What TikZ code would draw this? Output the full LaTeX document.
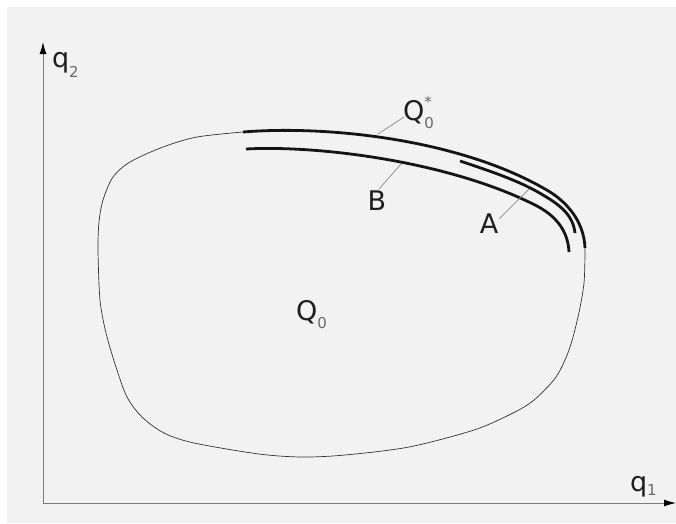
\documentclass[tikz,border=0pt]{standalone}
\usepackage{fontspec}
\setmainfont{DejaVu Sans}
\usetikzlibrary{arrows.meta}
\definecolor{bggray}{HTML}{F2F2F2}
\definecolor{subgray}{HTML}{6A6A6A}
\definecolor{leadgray}{HTML}{8A8A8A}
\definecolor{axisgray}{HTML}{7A7A7A}
\definecolor{ink}{HTML}{1E1E1E}
\newcommand{\lsub}[2]{{\fontsize{15}{15}\selectfont\color{subgray}\raisebox{#1}{#2}}}
\newcommand{\qsub}[2]{{\fontsize{15}{15}\selectfont\color{subgray}\raisebox{#1}{#2}}}
\tikzset{
  lbl/.style={inner sep=0pt, outer sep=0pt, text=ink, font=\fontsize{27}{27}\selectfont},
  axisline/.style={draw=axisgray, line width=1pt, -{Latex[length=12pt,width=7pt,color=black]}},
  boundary/.style={draw=black!80, line width=0.7pt},
  thickarc/.style={draw=black!92, line width=2.8pt},
  leader/.style={draw=leadgray, line width=0.7pt}
}
\begin{document}
\begin{tikzpicture}[x=1pt,y=-1pt]
\useasboundingbox (0,0) rectangle (676,523);
\fill[white] (0,0) rectangle (676,523);
\fill[bggray] (7,7) rectangle (676,523);

% axes
\coordinate (O) at (43,503);
\coordinate (ytip) at (43,42);
\coordinate (xtip) at (676,503);
\draw[axisline] (O) -- (ytip);
\draw[axisline] (O) -- (xtip);
\node[lbl, anchor=base west] (q2) at (52,67) {q\qsub{-10pt}{2}};
\node[lbl, anchor=base west] (q1) at (630,491) {q\qsub{-4pt}{1}};

% thin boundary of Q0
\coordinate (s) at (243,132);
\coordinate (e) at (585,248);
\draw[boundary] plot[smooth, tension=0.5] coordinates {(585,248) (584,283) (578,317) (569,350) (556,377) (534,400) (513,413) (474,430) (409,447) (345,455) (302,457) (259,454) (194,443) (164,433) (142,417) (127,397) (116,367) (106,333) (100,300) (98,250) (99,222) (103,200) (113,177) (130,162) (163,147) (197,137) (243,132)};

% Q0* (thick outer)
\draw[thickarc] (s) .. controls (330,125) and (460,140) .. (545,189)
  .. controls (565,200) and (584,220) .. (e);
% B (inner)
\coordinate (bs) at (246,149);
\coordinate (be) at (569,252);
\draw[thickarc] (bs) .. controls (320,145) and (450,162) .. (535,205)
  .. controls (555,215) and (568,230) .. (be);
% A
\coordinate (as) at (460,161);
\coordinate (ae) at (575,233);
\draw[thickarc] (as) .. controls (490,171) and (520,181) .. (543,195)
  .. controls (560,205) and (573,215) .. (ae);

% labels
\node[lbl, anchor=base west] (Qstar) at (403,120) {Q\rlap{\lsub{-8pt}{0}}\lsub{13pt}{*}};
\node[lbl, anchor=base] (B) at (377,210) {B};
\node[lbl, anchor=base] (A) at (489,233) {A};
\node[lbl, anchor=base west] (Q0) at (296,320) {Q\lsub{-8pt}{0}};

% leaders
\coordinate (lq1) at (378,134);
\coordinate (lq2) at (404,117);
\coordinate (lb1) at (401,164);
\coordinate (lb2) at (379,189);
\coordinate (la1) at (529,189);
\coordinate (la2) at (499,219);
\draw[leader] (lq1) -- (lq2);
\draw[leader] (lb1) -- (lb2);
\draw[leader] (la1) -- (la2);
\end{tikzpicture}
\end{document}
